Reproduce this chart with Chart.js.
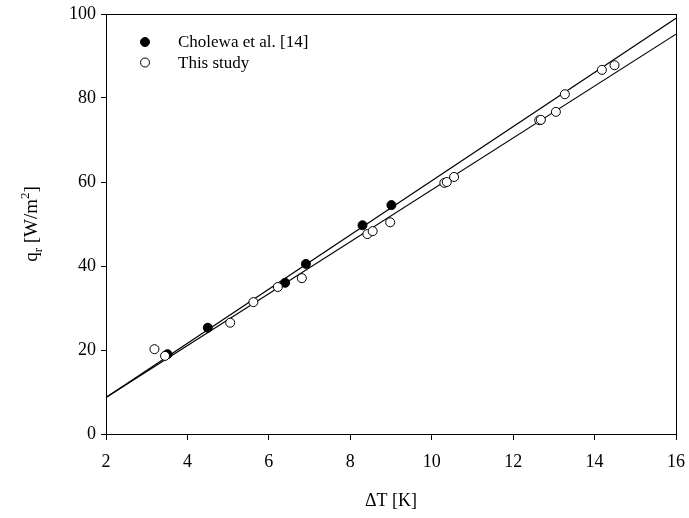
<!DOCTYPE html>
<html>
<head>
<meta charset="utf-8">
<script src="https://cdn.jsdelivr.net/npm/chart.js@4.4.0/dist/chart.umd.min.js"></script>
<style>
  html, body { margin: 0; padding: 0; background: #fff; }
  #wrap { width: 689px; height: 518px; }
</style>
</head>
<body>
<div id="wrap"><canvas id="qrChart" width="689" height="518"></canvas></div>
<script>
// Cholewa et al. [14] measurements: ΔT [K] and q_r [W/m2]
const cholewaDT = [3.51, 4.50, 6.40, 6.91, 8.30, 9.01];
const cholewaQ  = [19.0, 25.3, 36.0, 40.5, 49.7, 54.5];

// measurements of this study
const studyDT = [3.19, 3.45, 5.05, 5.62, 6.22, 6.81, 8.42, 8.55, 8.98, 10.31, 10.37, 10.55, 12.64, 12.68, 13.05, 13.27, 14.18, 14.49];
const studyQ  = [20.2, 18.6, 26.5, 31.4, 35.0, 37.1, 47.6, 48.3, 50.4, 59.8, 60.0, 61.2, 74.7, 74.8, 76.7, 80.9, 86.7, 87.8];

// linear fits, end points at ΔT = 2 and ΔT = 16
const fitDT = [2, 16];
const cholewaFitQ = [8.7, 99.0];
const studyFitQ = [8.7, 95.2];

const xTicks = [2, 4, 6, 8, 10, 12, 14, 16];
const yTicks = [0, 20, 40, 60, 80, 100];

const pts = (xs, ys) => xs.map((x, i) => ({ x: x, y: ys[i] }));
const FONT = '"Liberation Serif", "Times New Roman", serif';

// box around the plot area
const frame = {
    id: 'frame',
    afterDraw(chart) {
        const a = chart.chartArea, c = chart.ctx;
        c.save();
        c.strokeStyle = '#000';
        c.lineWidth = 1;
        c.strokeRect(a.left + 0.5, a.top + 0.5, a.right - a.left, a.bottom - a.top);
        c.restore();
    }
};

// legend in the upper left corner of the plot
const innerLegend = {
    id: 'innerLegend',
    afterDraw(chart) {
        const a = chart.chartArea, c = chart.ctx;
        const items = chart.data.datasets.filter(d => d.inLegend);
        c.save();
        c.font = '17px ' + FONT;
        c.textBaseline = 'middle';
        items.forEach((d, i) => {
            const y = a.top + 28 + i * 20.5;
            const x = a.left + 39;
            c.beginPath();
            c.arc(x, y, 4.5, 0, Math.PI * 2);
            c.fillStyle = d.backgroundColor;
            c.fill();
            c.lineWidth = 1;
            c.strokeStyle = '#000';
            c.stroke();
            c.fillStyle = '#000';
            c.fillText(d.label, a.left + 72, y + 1);
        });
        c.restore();
    }
};

// rotated y title with subscript and superscript
const yTitle = {
    id: 'yTitle',
    afterDraw(chart) {
        const a = chart.chartArea, c = chart.ctx;
        const parts = [
            { t: 'q', s: 19, dy: 0 },
            { t: 'r', s: 13, dy: 5 },
            { t: ' [W/m', s: 19, dy: 0 },
            { t: '2', s: 13, dy: -8 },
            { t: ']', s: 19, dy: 0 }
        ];
        c.save();
        c.fillStyle = '#000';
        c.textBaseline = 'alphabetic';
        let w = 0;
        parts.forEach(p => { c.font = p.s + 'px ' + FONT; w += c.measureText(p.t).width; });
        c.translate(37, (a.top + a.bottom) / 2);
        c.rotate(-Math.PI / 2);
        let x = -w / 2;
        parts.forEach(p => {
            c.font = p.s + 'px ' + FONT;
            c.fillText(p.t, x, p.dy);
            x += c.measureText(p.t).width;
        });
        c.restore();
    }
};

const ctx = document.getElementById('qrChart').getContext('2d');
const qrChart = new Chart(ctx, {
    type: 'scatter',
    data: {
        datasets: [
            {
                label: 'Cholewa et al. [14]',
                inLegend: true,
                data: pts(cholewaDT, cholewaQ),
                backgroundColor: '#000',
                borderColor: '#000',
                borderWidth: 1,
                pointRadius: 4.5,
                order: 1
            },
            {
                label: 'This study',
                inLegend: true,
                data: pts(studyDT, studyQ),
                backgroundColor: '#fff',
                borderColor: '#000',
                borderWidth: 1,
                pointRadius: 4.5,
                order: 0
            },
            {
                label: 'fit Cholewa',
                type: 'line',
                data: pts(fitDT, cholewaFitQ),
                borderColor: '#000',
                borderWidth: 1.2,
                pointRadius: 0,
                fill: false,
                order: 2
            },
            {
                label: 'fit study',
                type: 'line',
                data: pts(fitDT, studyFitQ),
                borderColor: '#000',
                borderWidth: 1.2,
                pointRadius: 0,
                fill: false,
                order: 2
            }
        ]
    },
    options: {
        responsive: false,
        animation: false,
        layout: { padding: { top: 14, right: 13, left: 0, bottom: 0 } },
        plugins: {
            legend: { display: false },
            tooltip: { enabled: false }
        },
        scales: {
            x: {
                type: 'linear',
                min: 2,
                max: 16,
                afterBuildTicks: s => { s.ticks = xTicks.map(v => ({ value: v })); },
                afterFit: s => { s.height = 84; s.paddingLeft = 0; s.paddingRight = 0; },
                grid: { drawOnChartArea: false, drawTicks: true, tickLength: 6, tickColor: '#000' },
                border: { color: '#000', width: 1 },
                ticks: { color: '#000', font: { family: FONT, size: 18 }, padding: 11 },
                title: { display: true, text: 'ΔT [K]', color: '#000', font: { family: FONT, size: 18 }, padding: { top: 8, bottom: 6 } }
            },
            y: {
                type: 'linear',
                min: 0,
                max: 100,
                afterBuildTicks: s => { s.ticks = yTicks.map(v => ({ value: v })); },
                afterFit: s => { s.width = 106; s.paddingTop = 0; s.paddingBottom = 0; },
                grid: { drawOnChartArea: false, drawTicks: true, tickLength: 5, tickColor: '#000' },
                border: { color: '#000', width: 1 },
                ticks: { color: '#000', font: { family: FONT, size: 18 }, padding: 5 }
            }
        }
    },
    plugins: [frame, innerLegend, yTitle]
});
</script>
</body>
</html>
